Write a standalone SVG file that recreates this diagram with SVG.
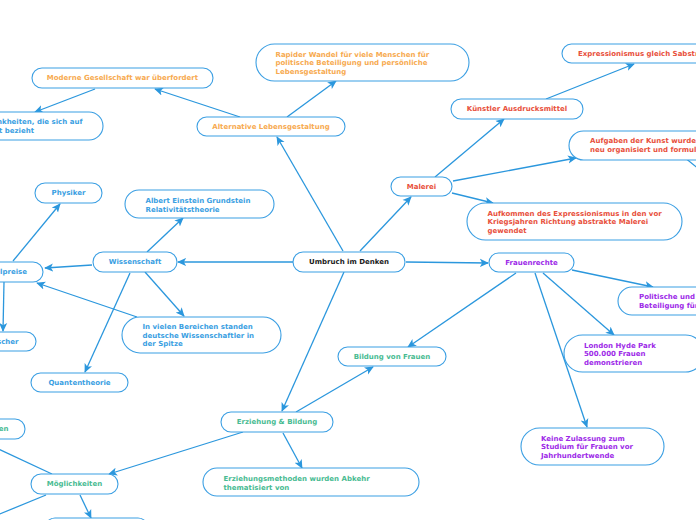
<svg xmlns="http://www.w3.org/2000/svg" width="696" height="520" viewBox="0 0 696 520">
<defs>
<marker id="a" viewBox="0 0 10 10" refX="9" refY="5" markerWidth="9" markerHeight="9" orient="auto" markerUnits="userSpaceOnUse"><path d="M0,0.5 L10,5 L0,9.5 L2.5,5 z" fill="#2b97dd"/></marker>
<style>
rect{fill:#fff;stroke:#3b9fe3;stroke-width:1.1}
text{font-family:"DejaVu Sans",Verdana,sans-serif;font-size:7px;font-weight:bold;dominant-baseline:central}
.c{text-anchor:middle}
.e{text-anchor:end}
.k{fill:#1a1a1a}
.o{fill:#f7aa50}
.r{fill:#e8503c}
.p{fill:#9d2ae8}
.g{fill:#48bb92}
.b{fill:#3aa0e2}
#conn line{stroke:#2b97dd;stroke-width:1.3;marker-end:url(#a)}
#conn line.n{marker-end:none}
</style>
</defs>
<rect x="0" y="0" width="696" height="520" style="fill:#fff;stroke:none"/>
<g id="conn">
<line x1="293" y1="262" x2="178" y2="262"/>
<line x1="406" y1="262" x2="488" y2="263"/>
<line x1="343" y1="251" x2="277" y2="137"/>
<line x1="360" y1="251" x2="411" y2="197"/>
<line x1="344" y1="272" x2="282" y2="411"/>
<line x1="147" y1="252" x2="183" y2="218"/>
<line x1="92" y1="265" x2="45" y2="268"/>
<line x1="145" y1="272" x2="184" y2="316"/>
<line x1="130" y1="273" x2="85" y2="372"/>
<line x1="13" y1="261" x2="60" y2="204"/>
<line x1="4" y1="282" x2="3" y2="331"/>
<line x1="137" y1="317" x2="37" y2="283"/>
<line x1="240" y1="117" x2="155" y2="89"/>
<line x1="287" y1="117" x2="336" y2="81"/>
<line x1="95" y1="89" x2="35" y2="112"/>
<line x1="435" y1="177" x2="504" y2="119"/>
<line x1="453" y1="181" x2="576" y2="158"/>
<line x1="452" y1="193" x2="493" y2="203"/>
<line x1="546" y1="99" x2="634" y2="64"/>
<line class="n" x1="684" y1="157" x2="700" y2="170"/>
<line x1="516" y1="273" x2="408" y2="347"/>
<line x1="572" y1="270" x2="653" y2="287"/>
<line x1="543" y1="273" x2="614" y2="335"/>
<line x1="535" y1="273" x2="587" y2="427"/>
<line x1="296" y1="412" x2="373" y2="367"/>
<line x1="283" y1="433" x2="302" y2="468"/>
<line x1="243" y1="432" x2="109" y2="474"/>
<line x1="52" y1="474" x2="-21" y2="440"/>
<line class="n" x1="46" y1="495" x2="-10" y2="518"/>
<line x1="80" y1="495" x2="91" y2="518"/>
</g>
<g id="n-center"><rect x="293" y="252" width="112" height="20" rx="10"/><text class="c k" x="349" y="262">Umbruch im Denken</text></g>
<g id="n-frauenrechte"><rect x="489" y="253" width="85" height="19" rx="9.5"/><text class="c p" x="531.5" y="262.5">Frauenrechte</text></g>
<g id="n-wissenschaft"><rect x="93" y="252" width="84" height="20" rx="10"/><text class="c b" x="135" y="262">Wissenschaft</text></g>
<g id="n-malerei"><rect x="391" y="177" width="61" height="19" rx="9.5"/><text class="c r" x="421.5" y="186.5">Malerei</text></g>
<g id="n-alternative"><rect x="197" y="117" width="148" height="19" rx="9.5"/><text class="c o" x="271" y="126.5">Alternative Lebensgestaltung</text></g>
<g id="n-erziehung"><rect x="221" y="412" width="112" height="20" rx="10"/><text class="c g" x="277" y="422">Erziehung &amp; Bildung</text></g>
<g id="n-bildung"><rect x="338" y="347" width="108" height="19" rx="9.5"/><text class="c g" x="392" y="356.5">Bildung von Frauen</text></g>
<g id="n-moderne"><rect x="32" y="68" width="181" height="20" rx="10"/><text class="c o" x="122.5" y="78">Moderne Gesellschaft war überfordert</text></g>
<g id="n-rapider"><rect x="256" y="44" width="213" height="37" rx="18.5"/><text class="o" x="275.5" y="54.5">Rapider Wandel für viele Menschen für</text><text class="o" x="275.5" y="63">politische Beteiligung und persönliche</text><text class="o" x="275.5" y="71.5">Lebensgestaltung</text></g>
<g id="n-krankheiten"><rect x="-60" y="112" width="163" height="28" rx="14"/><text class="b" x="-3" y="122">nkheiten, die sich auf</text><text class="b" x="-1" y="130.5">t bezieht</text></g>
<g id="n-expressionismus"><rect x="562" y="44" width="170" height="19" rx="9.5"/><text class="r" x="578" y="53.5">Expressionismus gleich Sabstr</text></g>
<g id="n-kuenstler"><rect x="451" y="99" width="132" height="20" rx="10"/><text class="c r" x="517" y="109">Künstler Ausdrucksmittel</text></g>
<g id="n-aufgaben"><rect x="569" y="131" width="170" height="29" rx="14.5"/><text class="r" x="590" y="141">Aufgaben der Kunst wurden</text><text class="r" x="590" y="149.5">neu organisiert und formuliert</text></g>
<g id="n-aufkommen"><rect x="467" y="203" width="215" height="37" rx="18.5"/><text class="r" x="487.5" y="213.5">Aufkommen des Expressionismus in den vor</text><text class="r" x="487.5" y="222">Kriegsjahren Richtung abstrakte Malerei</text><text class="r" x="487.5" y="230.5">gewendet</text></g>
<g id="n-physiker"><rect x="35" y="183" width="67" height="20" rx="10"/><text class="c b" x="68.5" y="193">Physiker</text></g>
<g id="n-einstein"><rect x="125" y="190" width="149" height="28" rx="14"/><text class="b" x="145.5" y="200.5">Albert Einstein Grundstein</text><text class="b" x="145.5" y="209.5">Relativitätstheorie</text></g>
<g id="n-nobelpreise"><rect x="-40" y="262" width="83" height="20" rx="10"/><text class="e b" x="27" y="272">Nobelpreise</text></g>
<g id="n-forscher"><rect x="-50" y="332" width="86" height="19" rx="9.5"/><text class="e b" x="18.5" y="341.5">Forscher</text></g>
<g id="n-vielen"><rect x="122" y="317" width="159" height="36" rx="18"/><text class="b" x="142.5" y="327">In vielen Bereichen standen</text><text class="b" x="142.5" y="335.5">deutsche Wissenschaftler in</text><text class="b" x="142.5" y="344">der Spitze</text></g>
<g id="n-quanten"><rect x="31" y="373" width="97" height="19" rx="9.5"/><text class="c b" x="79.5" y="382.5">Quantentheorie</text></g>
<g id="n-politische"><rect x="618" y="287" width="120" height="28" rx="14"/><text class="p" x="639" y="297">Politische und</text><text class="p" x="639" y="306">Beteiligung für</text></g>
<g id="n-london"><rect x="564" y="335" width="140" height="37" rx="18.5"/><text class="p" x="584" y="345.5">London Hyde Park</text><text class="p" x="584" y="354">500.000 Frauen</text><text class="p" x="584" y="362.5">demonstrieren</text></g>
<g id="n-keine"><rect x="521" y="428" width="143" height="37" rx="18.5"/><text class="p" x="541" y="438.5">Keine Zulassung zum</text><text class="p" x="541" y="447">Studium für Frauen vor</text><text class="p" x="541" y="455.5">Jahrhundertwende</text></g>
<g id="n-methoden"><rect x="203" y="468" width="216" height="28" rx="14"/><text class="g" x="223.5" y="478.5">Erziehungsmethoden wurden Abkehr</text><text class="g" x="223.5" y="487.5">thematisiert von</text></g>
<g id="n-moeglichkeiten"><rect x="31" y="474" width="87" height="20" rx="10"/><text class="c g" x="74.5" y="484">Möglichkeiten</text></g>
<g id="n-en"><rect x="-60" y="419" width="85" height="20" rx="10"/><text class="e g" x="8.5" y="429">en</text></g>
<g id="n-bottom"><rect x="45" y="518" width="103" height="20" rx="10"/></g>
</svg>
